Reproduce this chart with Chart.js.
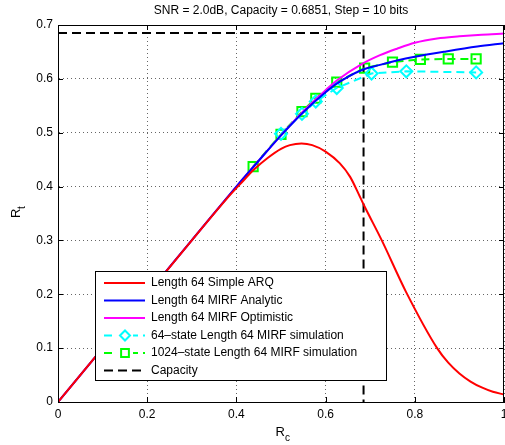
<!DOCTYPE html>
<html>
<head>
<meta charset="utf-8">
<script src="https://cdn.jsdelivr.net/npm/chart.js@4"></script>
<style>
  body { margin: 0; background: #fff; }
  #wrap { width: 505px; height: 445px; }
</style>
</head>
<body>
<div id="wrap"><canvas id="rateChart" width="505" height="445"></canvas></div>
<script>
const titleText = "SNR = 2.0dB, Capacity = 0.6851, Step = 10 bits";
const capacity = 0.6851;

// Length 64 Simple ARQ
const arqRc = [0, 0.1, 0.2, 0.3, 0.38, 0.41, 0.44, 0.47, 0.5, 0.52, 0.546, 0.57, 0.6, 0.632, 0.655, 0.677, 0.688, 0.726, 0.78, 0.85, 0.875, 0.9, 0.925, 0.95, 0.975, 1.0];
const arqRt = [0, 0.1, 0.2, 0.3, 0.379, 0.406, 0.432, 0.453, 0.47, 0.477, 0.48, 0.477, 0.465, 0.443, 0.418, 0.381, 0.362, 0.3, 0.205, 0.1, 0.073, 0.053, 0.038, 0.027, 0.019, 0.014];

// Length 64 MIRF Analytic
const analyticRc = [0, 0.2, 0.4, 0.45, 0.5, 0.55, 0.6, 0.625, 0.68, 0.722, 0.76, 0.8, 0.87, 0.94, 1.0];
const analyticRt = [0, 0.2, 0.4, 0.448, 0.495, 0.538, 0.575, 0.591, 0.616, 0.626, 0.634, 0.641, 0.651, 0.66, 0.666];

// Length 64 MIRF Optimistic
const optimisticRc = [0, 0.2, 0.4, 0.45, 0.5, 0.55, 0.6, 0.625, 0.68, 0.722, 0.76, 0.8, 0.85, 0.9, 0.95, 1.0];
const optimisticRt = [0, 0.2, 0.4, 0.448, 0.495, 0.54, 0.579, 0.597, 0.627, 0.644, 0.656, 0.667, 0.675, 0.679, 0.682, 0.684];

// 64-state simulation
const sim64Rc = [0.5, 0.547, 0.578, 0.625, 0.703, 0.781, 0.9375];
const sim64Rt = [0.498, 0.535, 0.558, 0.583, 0.61, 0.614, 0.612];

// 1024-state simulation
const sim1024Rc = [0.4375, 0.5, 0.547, 0.578, 0.625, 0.6875, 0.75, 0.8125, 0.875, 0.9375];
const sim1024Rt = [0.437, 0.497, 0.539, 0.564, 0.594, 0.62, 0.631, 0.636, 0.637, 0.637];

// Capacity bound
const capacityRc = [0, capacity, capacity];
const capacityRt = [capacity, capacity, 0];

const xTicks = [0, 0.2, 0.4, 0.6, 0.8, 1];
const yTicks = [0, 0.1, 0.2, 0.3, 0.4, 0.5, 0.6, 0.7];

function pts(xs, ys) {
  return xs.map((x, i) => ({ x: x, y: ys[i] }));
}

const FONT = "Liberation Sans, Arial, sans-serif";

const matlabFrame = {
  id: "matlabFrame",
  afterDatasetsDraw(chart) {
    const { ctx, chartArea: a, scales } = chart;
    ctx.save();
    ctx.strokeStyle = "#000";
    ctx.lineWidth = 1;
    ctx.beginPath();
    xTicks.forEach(v => {
      const px = Math.round(scales.x.getPixelForValue(v)) + 0.5;
      ctx.moveTo(px, a.bottom); ctx.lineTo(px, a.bottom - 5);
      ctx.moveTo(px, a.top); ctx.lineTo(px, a.top + 5);
    });
    yTicks.forEach(v => {
      const py = Math.round(scales.y.getPixelForValue(v)) + 0.5;
      ctx.moveTo(a.left, py); ctx.lineTo(a.left + 5, py);
      ctx.moveTo(a.right, py); ctx.lineTo(a.right - 5, py);
    });
    ctx.stroke();
    ctx.strokeRect(Math.round(a.left) + 0.5, Math.round(a.top) + 0.5, Math.round(a.right - a.left) - 1, Math.round(a.bottom - a.top));
    ctx.restore();
  },
  afterDraw(chart) {
    const { ctx, chartArea: a } = chart;
    ctx.save();
    ctx.fillStyle = "#000";
    ctx.font = "12px " + FONT;
    ctx.textAlign = "center";
    ctx.textBaseline = "middle";
    ctx.fillText(titleText, (a.left + a.right) / 2, 11);

    // x label R_c
    const cx = (a.left + a.right) / 2;
    ctx.font = "13px " + FONT;
    ctx.textAlign = "right";
    ctx.fillText("R", cx + 4, 432);
    ctx.font = "10px " + FONT;
    ctx.textAlign = "left";
    ctx.fillText("c", cx + 4, 438);

    // y label R_t
    ctx.save();
    ctx.translate(16, 218);
    ctx.rotate(-Math.PI / 2);
    ctx.font = "13px " + FONT;
    ctx.textAlign = "left";
    ctx.fillText("R", 0, 0);
    ctx.font = "10px " + FONT;
    ctx.fillText("t", 9, 6);
    ctx.restore();

    // legend box
    const box = { x: 95.5, y: 271.5, w: 291, h: 109 };
    ctx.fillStyle = "#fff";
    ctx.fillRect(box.x, box.y, box.w, box.h);
    ctx.strokeStyle = "#000";
    ctx.lineWidth = 1;
    ctx.strokeRect(box.x, box.y, box.w, box.h);
    ctx.font = "12px " + FONT;
    ctx.textAlign = "left";
    ctx.textBaseline = "middle";
    chart.data.datasets.forEach((ds, i) => {
      const y = 283 + i * 17.5;
      ctx.save();
      ctx.strokeStyle = ds.borderColor;
      ctx.lineWidth = 2;
      ctx.setLineDash(ds.borderDash || []);
      ctx.beginPath();
      ctx.moveTo(104, y); ctx.lineTo(145, y);
      ctx.stroke();
      ctx.setLineDash([]);
      if (ds.pointRadius > 0) {
        ctx.fillStyle = "#fff";
        ctx.fillRect(117, y - 7, 16, 14);
        ctx.fillStyle = "rgba(0,0,0,0)";
        Chart.helpers.drawPoint(ctx, { pointStyle: ds.pointStyle, radius: ds.pointRadius - 1, rotation: 0, borderWidth: 2 }, 125, y);
      }
      ctx.restore();
      ctx.fillStyle = "#000";
      ctx.fillText(ds.label, 151, y);
    });
    ctx.restore();
  }
};

const lineBase = { pointRadius: 0, borderWidth: 2, fill: false, cubicInterpolationMode: "monotone" };

new Chart(document.getElementById("rateChart"), {
  type: "line",
  data: {
    datasets: [
      Object.assign({}, lineBase, { label: "Length 64 Simple ARQ", data: pts(arqRc, arqRt), borderColor: "#ff0000" }),
      Object.assign({}, lineBase, { label: "Length 64 MIRF Analytic", data: pts(analyticRc, analyticRt), borderColor: "#0000ff" }),
      Object.assign({}, lineBase, { label: "Length 64 MIRF Optimistic", data: pts(optimisticRc, optimisticRt), borderColor: "#ff00ff" }),
      {
        label: "64\u2013state Length 64 MIRF simulation",
        data: pts(sim64Rc, sim64Rt),
        borderColor: "#00ffff", borderWidth: 2, borderDash: [8, 5], fill: false, tension: 0,
        pointStyle: "rectRot", pointRadius: 6, pointBorderWidth: 2,
        pointBorderColor: "#00ffff", pointBackgroundColor: "rgba(0,0,0,0)"
      },
      {
        label: "1024\u2013state Length 64 MIRF simulation",
        data: pts(sim1024Rc, sim1024Rt),
        borderColor: "#00ff00", borderWidth: 2, borderDash: [8, 5], fill: false, tension: 0,
        pointStyle: "rect", pointRadius: 6.5, pointBorderWidth: 2,
        pointBorderColor: "#00ff00", pointBackgroundColor: "rgba(0,0,0,0)"
      },
      {
        label: "Capacity",
        data: pts(capacityRc, capacityRt),
        borderColor: "#000000", borderWidth: 2, borderDash: [9, 5], fill: false, tension: 0, pointRadius: 0
      }
    ]
  },
  options: {
    responsive: false,
    animation: false,
    devicePixelRatio: 1,
    layout: { autoPadding: false, padding: { left: 0, right: 1, top: 25, bottom: 0 } },
    plugins: { legend: { display: false }, tooltip: { enabled: false } },
    scales: {
      x: {
        type: "linear", min: 0, max: 1,
        afterFit(scale) { scale.height = 43; scale.paddingLeft = 0; scale.paddingRight = 0; },
        afterBuildTicks(scale) { scale.ticks = xTicks.map(v => ({ value: v })); },
        ticks: { color: "#000", font: { size: 12, family: FONT }, padding: 5, maxRotation: 0, callback: v => String(v) },
        grid: { color: "rgba(0,0,0,0.6)", drawTicks: false },
        border: { display: true, color: "#000", dash: [1, 3] }
      },
      y: {
        type: "linear", min: 0, max: 0.7,
        afterFit(scale) { scale.width = 58; scale.paddingTop = 0; scale.paddingBottom = 0; },
        afterBuildTicks(scale) { scale.ticks = yTicks.map(v => ({ value: v })); },
        ticks: { color: "#000", font: { size: 12, family: FONT }, padding: 5, callback: v => String(v) },
        grid: { color: "rgba(0,0,0,0.6)", drawTicks: false },
        border: { display: true, color: "#000", dash: [1, 3] }
      }
    }
  },
  plugins: [matlabFrame]
});
</script>
</body>
</html>
